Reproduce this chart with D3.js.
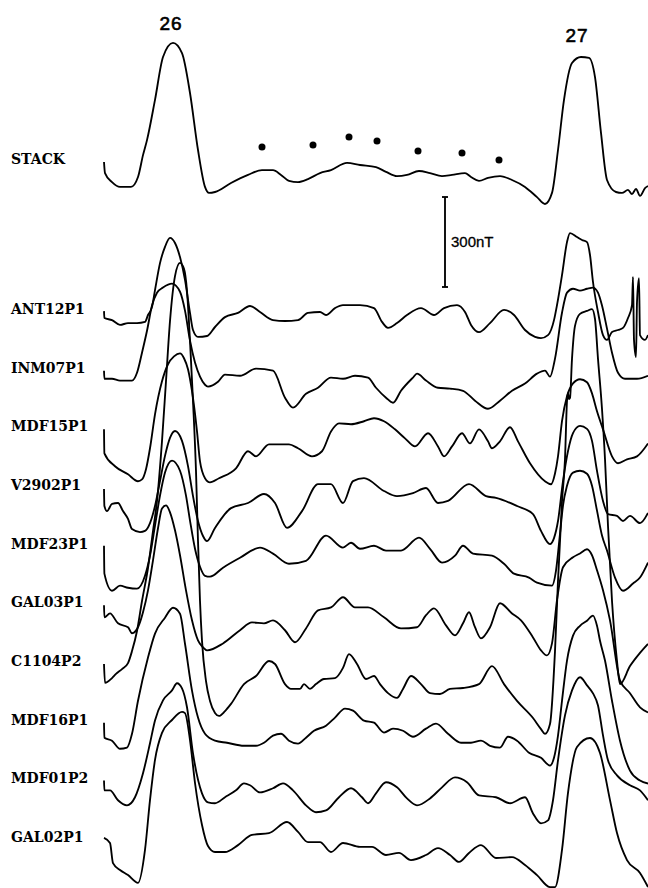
<!DOCTYPE html>
<html><head><meta charset="utf-8">
<script src="https://cdn.jsdelivr.net/npm/d3@7"></script>
<style>html,body{margin:0;padding:0;background:#fff;}svg{display:block;}</style>
</head><body>
<svg id="chart" width="648" height="888"></svg>
<script>
// ---------------- DATA (distance along profile in km, anomaly in nT) ----------------
const profileNames = ["ANT12P1","INM07P1","MDF15P1","V2902P1","MDF23P1","GAL03P1","C1104P2","MDF16P1","MDF01P2","GAL02P1"];
const anomalyLabels = ["26","27"];
const anomalyKm = [33.5, 236.5];
const scaleBarNT = 300;

const stackProfile = [[0,-10],[0.5,-47],[4,-77],[8,-93],[13.5,-93],[17,-60],[19.5,13],[21.5,63],[25.5,197],[29.5,340],[34.5,387],[39,353],[43,220],[47,30],[50.5,-93],[52.5,-113],[55.5,-110],[63.5,-80],[72,-53],[79,-37],[84.5,-37],[88.5,-53],[92.5,-73],[97,-77],[102,-67],[108,-47],[113.5,-37],[121.5,-13],[128,-20],[136,-27],[141,-43],[146.5,-57],[151.5,-53],[157.5,-40],[163,-47],[169,-57],[174,-53],[180.5,-47],[183.5,-60],[187.5,-73],[192,-63],[198,-57],[204,-70],[210.5,-93],[216.5,-127],[220.5,-150],[224,-113],[227,30],[230,197],[234,320],[238.5,340],[242.5,337],[245.5,273],[248.5,87],[251.5,-70],[256,-110],[259,-113],[262,-103],[264,-117],[266,-100],[268,-123],[270.5,-97],[272,-90]];
const stackDotsKm = [79, 104.5, 122.5, 136.5, 157, 179, 197.5];
const stackDotsNT = [40, 47, 73, 60, 27, 20, -3];

const ant12p1 = [[0,-7],[0.2,-30],[4,-37],[8,-53],[12,-47],[16.5,-47],[20.5,-43],[22,-20],[24,7],[25.5,63],[28,153],[30.5,207],[33,237],[35.5,220],[38,173],[40.5,97],[43,-13],[44.5,-70],[47,-93],[51.5,-90],[55.5,-60],[60.5,-27],[67,-13],[73,10],[78,-10],[84.5,-37],[90.5,-40],[97,-37],[102,-13],[108,-10],[111,-20],[115.5,3],[119.5,13],[128,13],[135,3],[139,-43],[142,-63],[146.5,-47],[151.5,-20],[158.5,3],[165,-20],[170,3],[176.5,13],[180.5,-10],[183.5,-53],[187.5,-77],[193,-47],[200,-3],[205,-20],[210.5,-70],[215.5,-93],[218.5,-97],[222,-87],[225,-37],[226.5,13],[229,113],[231.5,223],[233,253],[236.5,240],[239,230],[241.5,223],[243,180],[244.5,90],[247,-10],[249.5,-87],[251.5,-103],[254,-77],[257,-70],[259.5,-63],[262,-30],[264,13],[264.5,107],[265,-103],[266,-160],[266.5,23],[267.5,103],[268,-87],[270.5,-103],[272,-87]];
const inm07p1 = [[0,-10],[0.2,-37],[4,-37],[8,-43],[14,-43],[16.5,-17],[19,50],[21.5,123],[24,207],[26.5,250],[29.5,267],[34,280],[38,253],[40.5,190],[43,90],[45.5,17],[48,-30],[50.5,-57],[52,-63],[57,-47],[60.5,-23],[68,-27],[76,-3],[84.5,-10],[90.5,-100],[94.5,-133],[101,-87],[107,-67],[113.5,-33],[119.5,-37],[125.5,-27],[132,-33],[136,-67],[141,-100],[144.5,-117],[148.5,-77],[154.5,-33],[156.5,-20],[161,-43],[167,-67],[173,-70],[179.5,-77],[185.5,-110],[192,-137],[198,-110],[204,-77],[210.5,-53],[216.5,-20],[220.5,-10],[223,-30],[225.5,30],[229,183],[231.5,250],[234.5,263],[238,257],[241.5,263],[244.5,267],[247,250],[249,207],[251.5,130],[254,50],[257,-17],[260.5,-37],[266.5,-37],[272,-27]];
const mdf15p1 = [[0,-10],[0.2,-90],[5.5,-133],[12,-160],[17,-183],[19,-177],[21,-143],[23,-73],[25.5,40],[29,150],[32,207],[35,233],[38,243],[40,227],[42,190],[44,117],[46.5,-17],[48,-117],[50.5,-173],[53,-187],[57.5,-173],[66,-140],[72,-83],[76,-100],[82.5,-60],[92.5,-60],[97,-73],[104,-100],[109,-83],[113.5,-17],[117.5,10],[123.5,7],[130,17],[135,27],[140,17],[145.5,-10],[150.5,-40],[155.5,-67],[162,-23],[167,-67],[170,-100],[174,-67],[179,-23],[183,-57],[187.5,-10],[192,-50],[194,-73],[198,-50],[203,-3],[207,-50],[213,-123],[220.5,-183],[223.5,-193],[225.5,-157],[227,-100],[229,17],[231.5,100],[234.5,143],[238,157],[241.5,147],[244,110],[246.5,50],[249.5,-10],[254,-100],[257,-123],[261.5,-110],[266.5,-100],[272,-57]];
const v2902p1 = [[0,-13],[0.2,-70],[1.5,-87],[4,-63],[7,-60],[9.5,-87],[12,-113],[14,-147],[18,-157],[20.5,-153],[23,-127],[25.5,-70],[28,13],[30.5,97],[33,157],[35.5,180],[39,147],[42,63],[44.5,-37],[47,-120],[49.5,-170],[51.5,-187],[55.5,-143],[63.5,-77],[72,-60],[80,-30],[85.5,-60],[91.5,-143],[99,-87],[107,3],[113.5,3],[119.5,-60],[124.5,13],[130,23],[140,-20],[146.5,-37],[154.5,-27],[161,-10],[167,-60],[172,-53],[182.5,3],[191,-37],[196,-43],[206.5,-70],[214.5,-97],[218.5,-153],[223,-197],[225,-177],[227,-120],[229.5,13],[232,113],[234.5,173],[238,197],[241.5,187],[244,147],[246.5,47],[249.5,-53],[252,-97],[256.5,-103],[259.5,-120],[263,-103],[268,-127],[272,-93]];
const mdf23p1 = [[0,-7],[0.2,-100],[4,-157],[8,-140],[12,-147],[16.5,-150],[20.5,-107],[23,-40],[25.5,60],[28,160],[30.5,237],[34,277],[38,243],[41,160],[43,77],[45.5,-17],[48,-77],[50.5,-107],[53,-110],[59.5,-80],[68,-47],[78,-13],[84.5,-33],[92.5,-67],[101,-57],[111,27],[119.5,-13],[123.5,3],[128,-17],[135,-7],[141,-23],[148.5,-23],[157.5,20],[163,-17],[169,-63],[175.5,-40],[179.5,-7],[184.5,-33],[194,-40],[200,-67],[205,-100],[212.5,-113],[216.5,-130],[224,-140],[226,-90],[228,33],[229.5,127],[231.5,193],[234.5,237],[238,243],[241.5,233],[244,193],[246.5,110],[249,27],[251.5,-23],[255.5,-113],[259.5,-157],[264.5,-133],[268,-113],[272,-63]];
const gal03p1 = [[0,-10],[0.2,-50],[3,-37],[7,-70],[12,-83],[14,-103],[17,-83],[19.5,-33],[22,40],[24.5,140],[27,247],[29,313],[31,323],[33,300],[35.5,240],[38,157],[41,40],[44,-60],[47,-127],[49.5,-150],[51.5,-160],[59.5,-137],[68,-93],[74,-67],[80,-70],[84.5,-60],[90.5,-93],[95.5,-133],[101,-87],[107,-27],[113.5,-17],[119.5,17],[125.5,-17],[132,-17],[140,-50],[148.5,-87],[156.5,-83],[161,-43],[165,-20],[171,-77],[175.5,-110],[179.5,-70],[182.5,-33],[185.5,-83],[188.5,-120],[193,-83],[198,-3],[204,-37],[208.5,-60],[214.5,-117],[218.5,-160],[221.5,-177],[224,-137],[226.5,7],[229.5,117],[234.5,150],[238,163],[241.5,177],[244,157],[246.5,107],[249.5,40],[253,-60],[258,-260],[263,-303],[268,-350],[272,-367]];
const c1104p2 = [[0,-10],[0.5,-73],[4,-57],[6,-43],[9,-27],[12,-7],[14,33],[16.5,100],[19,200],[22,310],[24.5,433],[26.5,533],[29,733],[31,933],[33,1133],[35.5,1283],[38,1327],[40,1307],[41.5,1233],[43,1067],[44.5,867],[46,633],[47,400],[48,200],[49,67],[51,-67],[53,-133],[55.5,-173],[57.5,-183],[60.5,-167],[63.5,-143],[70,-77],[76,-50],[82.5,0],[85.5,-10],[90.5,-77],[93.5,-93],[98,-93],[100,-77],[103,-93],[106,-77],[110,-60],[115.5,-57],[119.5,-23],[122.5,23],[126.5,-10],[131,-60],[135,-50],[138,-77],[142,-107],[146.5,-123],[149.5,-93],[153.5,-50],[158.5,-77],[163,-107],[168,-110],[173,-93],[179.5,-90],[187.5,-77],[194,-17],[200,-77],[206.5,-133],[214.5,-190],[218.5,-227],[220.5,-243],[223,-210],[225.5,33],[227,267],[229,533],[230.5,673],[231.5,867],[232,893],[232.5,873],[233,877],[234,1007],[235.5,1117],[238,1157],[241.5,1167],[244,1173],[245.5,1140],[247,1007],[249,840],[250.5,673],[252,450],[254,200],[256.5,0],[258,-77],[263,-17],[268,27],[272,57]];
const mdf16p1 = [[0,-10],[0.2,-60],[4,-70],[8,-97],[11.5,-93],[14,-47],[17,63],[22,207],[25.5,287],[30.5,340],[34.5,373],[38,353],[40.5,253],[44,97],[47,7],[50.5,-47],[55.5,-70],[61.5,-77],[70,-87],[76,-87],[80,-77],[84.5,-53],[88.5,-47],[92.5,-70],[97,-80],[101,-60],[105,-37],[111,-20],[115.5,7],[120.5,37],[124.5,30],[130,-3],[135,-10],[140,-43],[144.5,-30],[149.5,-37],[154.5,-57],[161,-30],[166,-13],[172,-47],[178.5,-77],[183.5,-77],[188.5,-70],[193,-87],[198,-93],[202,-57],[206.5,-70],[212.5,-110],[218.5,-127],[223,-153],[225,-127],[227,-53],[229,63],[231.5,197],[234.5,280],[238,313],[241.5,330],[244.5,347],[246.5,313],[248,263],[250.5,197],[254,63],[258,-70],[263,-170],[268,-203],[272,-213]];
const mdf01p2 = [[0,-7],[0.2,-40],[3,-40],[7,-73],[11.5,-90],[15.5,-63],[19.5,17],[23,117],[25.5,193],[29.5,260],[34,293],[36.5,317],[39,300],[41.5,237],[44.5,83],[49,-50],[52,-80],[55.5,-83],[60.5,-63],[66,-40],[70,-17],[73,-23],[78,-47],[84.5,-33],[89.5,-17],[94.5,-40],[101,-90],[106,-113],[111,-107],[117.5,-63],[123.5,-33],[129,-63],[132,-83],[136,-50],[141,-13],[146.5,-30],[151.5,-67],[156.5,-90],[163,-67],[169,-30],[175.5,3],[181.5,-13],[187.5,-57],[196,-63],[203,-83],[210.5,-63],[214.5,-117],[218.5,-150],[222,-140],[224.5,-73],[227,60],[230.5,210],[234,293],[238,337],[241.5,310],[244.5,283],[247,243],[249.5,143],[252,60],[256.5,10],[263,-23],[268,-40],[272,-73]];
const gal02p1 = [[0,-3],[3,-20],[4.5,-87],[8,-110],[12,-127],[17,-153],[20.5,-43],[23,123],[25.5,257],[29,347],[34,390],[39,417],[40.5,413],[43,323],[45.5,180],[49,40],[52,-30],[55.5,-50],[60.5,-50],[67,-27],[74,7],[82.5,13],[91.5,50],[97,17],[102,-17],[108,-17],[113.5,-50],[119.5,-20],[128,-33],[134,-33],[141,-60],[147.5,-53],[153.5,-77],[161,-60],[167,-37],[173,-60],[177.5,-83],[182.5,-53],[188.5,-27],[196,-70],[204,-67],[210.5,-93],[216.5,-127],[223,-167],[225.5,-167],[229,-43],[232,147],[236.5,300],[243,330],[248,280],[253,123],[256.5,13],[261.5,-77],[268,-120],[272,-167]];

const profiles = [ant12p1, inm07p1, mdf15p1, v2902p1, mdf23p1, gal03p1, c1104p2, mdf16p1, mdf01p2, gal02p1];

// ---------------- LAYOUT ----------------
const W = 648, H = 888;
const svg = d3.select("#chart");
svg.append("rect").attr("width", W).attr("height", H).attr("fill", "#fff");

const x = d3.scaleLinear().domain([0, 272]).range([104, 648]);
// amplitude scale: 300 nT = 90 px (upwards positive)
const amp = d3.scaleLinear().domain([0, scaleBarNT]).range([0, -90]);
const rowY = d3.scalePoint().domain(profileNames).range([309, 837]);
const stackY = 159;
const SW = 1.85;

const line = base => d3.line()
  .x(d => x(d[0]))
  .y(d => base + amp(d[1]))
  .curve(d3.curveMonotoneX);

const g = svg.append("g");

// stack
g.append("path").datum(stackProfile)
  .attr("d", line(stackY))
  .attr("fill", "none").attr("stroke", "#000").attr("stroke-width", SW)
  .attr("stroke-linejoin", "round");

g.selectAll("circle.dot").data(stackDotsKm).join("circle")
  .attr("class", "dot")
  .attr("cx", d => x(d))
  .attr("cy", (d, i) => stackY + amp(stackDotsNT[i]))
  .attr("r", 3.5).attr("fill", "#000");

// profiles
profileNames.forEach((name, i) => {
  g.append("path").datum(profiles[i])
    .attr("d", line(rowY(name)))
    .attr("fill", "none").attr("stroke", "#000").attr("stroke-width", SW)
    .attr("stroke-linejoin", "round");
});

// labels
const labelFont = "'DejaVu Serif', serif";
svg.append("text").text("STACK")
  .attr("x", 11).attr("y", stackY).attr("dy", "0.36em")
  .attr("font-family", labelFont).attr("font-weight", "bold").attr("font-size", 14)
  .attr("fill", "#000");
svg.selectAll("text.plab").data(profileNames).join("text")
  .attr("class", "plab")
  .text(d => d)
  .attr("x", 11).attr("y", d => rowY(d)).attr("dy", "0.36em")
  .attr("font-family", labelFont).attr("font-weight", "bold").attr("font-size", 14)
  .attr("fill", "#000");

// anomaly labels
const anomY = [23, 35];
svg.selectAll("text.anom").data(anomalyLabels).join("text")
  .attr("class", "anom")
  .text(d => d)
  .attr("x", (d, i) => x(anomalyKm[i]))
  .attr("y", (d, i) => anomY[i]).attr("dy", "0.36em")
  .attr("text-anchor", "middle")
  .attr("font-family", "'Liberation Sans', Arial, sans-serif")
  .attr("font-size", 19).attr("letter-spacing", 1)
  .attr("fill", "#000").attr("stroke", "#000").attr("stroke-width", 0.6);

// scale bar
const barX = 445, barTop = 197;
const barBottom = barTop - amp(scaleBarNT);
const sb = svg.append("g").attr("stroke", "#000").attr("stroke-width", SW);
sb.append("line").attr("x1", barX).attr("x2", barX).attr("y1", barTop).attr("y2", barBottom);
sb.append("line").attr("x1", barX - 3).attr("x2", barX + 3).attr("y1", barTop).attr("y2", barTop);
sb.append("line").attr("x1", barX - 3).attr("x2", barX + 3).attr("y1", barBottom).attr("y2", barBottom);
svg.append("text").text(scaleBarNT + "nT")
  .attr("x", barX + 6).attr("y", (barTop + barBottom) / 2).attr("dy", "0.36em")
  .attr("font-family", "'Liberation Sans', Arial, sans-serif")
  .attr("font-size", 15).attr("fill", "#000").attr("stroke", "#000").attr("stroke-width", 0.3);
</script>
</body></html>
